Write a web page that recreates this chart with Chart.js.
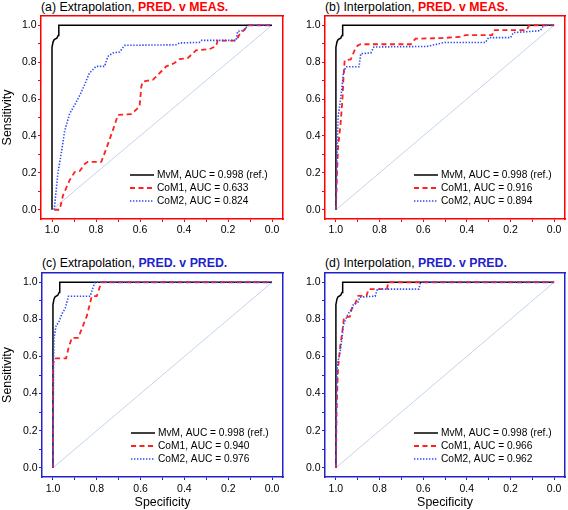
<!DOCTYPE html>
<html><head><meta charset="utf-8">
<script src="https://cdn.jsdelivr.net/npm/chart.js@4.4.1/dist/chart.umd.min.js"></script>
<style>
body{margin:0;width:568px;height:510px;position:relative;background:#fff;overflow:hidden;font-family:'Liberation Sans',Arial,sans-serif}
canvas{position:absolute}
.t{position:absolute;font-size:12.3px;line-height:15px;white-space:nowrap;color:#000}
.t b{font-weight:bold}
</style></head><body>
<div class="t" style="left:41px;top:0px">(a) Extrapolation, <b style="color:#ff0000">PRED. v MEAS.</b></div>
<div class="t" style="left:325px;top:0px">(b) Interpolation, <b style="color:#ff0000">PRED. v MEAS.</b></div>
<div class="t" style="left:42px;top:256px">(c) Extrapolation, <b style="color:#2222cc">PRED. v PRED.</b></div>
<div class="t" style="left:325px;top:256px">(d) Interpolation, <b style="color:#2222cc">PRED. v PRED.</b></div>
<canvas id="ca" width="288" height="250" style="left:0;top:0"></canvas>
<canvas id="cb" width="280" height="250" style="left:288px;top:0"></canvas>
<canvas id="cc" width="288" height="260" style="left:0;top:250px"></canvas>
<canvas id="cd" width="280" height="260" style="left:288px;top:250px"></canvas>
<script>
// ---- data ----
const tickValues = [0,0.1,0.2,0.3,0.4,0.5,0.6,0.7,0.8,0.9,1.0];
const tickLabels = ['0.0','0.2','0.4','0.6','0.8','1.0'];
const seriesNames = ['MvM','CoM1','CoM2'];

const aucA = [0.998,0.633,0.824];
const aucB = [0.998,0.916,0.894];
const aucC = [0.998,0.940,0.976];
const aucD = [0.998,0.966,0.962];

const diagSpec = [1,0];
const diagSens = [0,1];

const mvmSpec = [1.0,1.0,0.995,0.99,0.978,0.972,0.969,0.0];
const mvmSens = [0.0,0.88,0.91,0.922,0.93,0.945,1.0,1.0];

const aCoM1Spec = [0.99,0.965,0.95,0.92,0.897,0.874,0.85,0.837,0.776,0.753,0.723,0.70,0.64,0.602,0.594,0.587,0.542,0.519,0.481,0.443,0.42,0.383,0.345,0.284,0.254,0.247,0.163,0.148,0.118,0.11,0.0];
const aCoM1Sens = [0.0,0.0,0.078,0.16,0.205,0.21,0.25,0.26,0.26,0.332,0.432,0.514,0.518,0.559,0.668,0.695,0.704,0.731,0.777,0.795,0.817,0.822,0.864,0.871,0.886,0.917,0.917,0.949,0.986,1.0,1.0];
const aCoM2Spec = [0.99,0.98,0.973,0.958,0.942,0.92,0.897,0.874,0.852,0.83,0.80,0.761,0.746,0.723,0.693,0.67,0.436,0.42,0.33,0.32,0.163,0.156,0.126,0.11,0.0];
const aCoM2Sens = [0.0,0.12,0.2,0.305,0.43,0.52,0.568,0.62,0.677,0.74,0.777,0.777,0.831,0.85,0.855,0.891,0.894,0.904,0.907,0.918,0.918,0.967,0.973,1.0,1.0];

const bCoM1Spec = [1.0,0.995,0.99,0.98,0.975,0.97,0.965,0.96,0.932,0.916,0.90,0.886,0.657,0.635,0.52,0.43,0.406,0.284,0.277,0.126,0.117,0.11,0.0];
const bCoM1Sens = [0.0,0.2,0.34,0.45,0.52,0.6,0.72,0.81,0.815,0.86,0.89,0.897,0.897,0.927,0.93,0.937,0.946,0.946,0.973,0.973,0.995,1.0,1.0];
const bCoM2Spec = [1.0,0.995,0.99,0.982,0.973,0.966,0.954,0.894,0.886,0.84,0.826,0.584,0.505,0.315,0.30,0.20,0.186,0.064,0.05,0.04,0.0];
const bCoM2Sens = [0.0,0.27,0.5,0.57,0.65,0.74,0.775,0.775,0.846,0.85,0.882,0.885,0.906,0.906,0.933,0.933,0.96,0.97,0.995,1.0,1.0];

const cCoM1Spec = [1.0,1.0,0.995,0.94,0.93,0.914,0.885,0.868,0.845,0.83,0.823,0.80,0.785,0.78,0.0];
const cCoM1Sens = [0.0,0.55,0.59,0.59,0.64,0.70,0.70,0.75,0.82,0.89,0.925,0.925,0.98,1.0,1.0];
const cCoM2Spec = [1.0,0.997,0.995,0.985,0.975,0.959,0.944,0.929,0.83,0.815,0.808,0.0];
const cCoM2Sens = [0.0,0.6,0.7,0.77,0.78,0.83,0.86,0.925,0.925,0.98,1.0,1.0];

const dCoM1Spec = [1.0,0.997,0.993,0.99,0.98,0.972,0.966,0.963,0.936,0.928,0.913,0.898,0.86,0.85,0.766,0.76,0.0];
const dCoM1Sens = [0.0,0.3,0.45,0.54,0.66,0.72,0.78,0.81,0.815,0.855,0.88,0.927,0.927,0.963,0.963,1.0,1.0];
const dCoM2Spec = [1.0,0.997,0.993,0.985,0.98,0.972,0.966,0.955,0.944,0.928,0.92,0.90,0.89,0.82,0.81,0.62,0.612,0.0];
const dCoM2Sens = [0.0,0.4,0.56,0.6,0.63,0.70,0.77,0.80,0.83,0.855,0.88,0.89,0.92,0.925,0.963,0.963,1.0,1.0];

// ---- rendering ----
const FONT = "'Liberation Sans', Arial, sans-serif";
Chart.defaults.font.family = FONT;
const RED = '#ff0000', BLUE = '#2222cc';
const pts = (xs, ys) => xs.map((x, i) => ({x: x, y: ys[i]}));
const labelFor = v => { const l = tickLabels.find(s => Math.abs(parseFloat(s) - v) < 1e-6); return l === undefined ? '' : l; };

const styles = [
  {color:'#000000', width:1.5, dash:[]},
  {color:'#ff2020', width:1.8, dash:[5,3.5]},
  {color:'#2f4cf5', width:1.6, dash:[1.4,1.6]}
];

const legendPlugin = {
  id: 'rocLegend',
  afterDatasetsDraw(chart) {
    const {ctx, chartArea: a} = chart;
    const items = chart.data.datasets.filter(d => d.label);
    ctx.save();
    items.forEach((d, i) => {
      const y = a.bottom - 44 + i * 13;
      ctx.beginPath();
      ctx.setLineDash(d.borderDash || []);
      ctx.strokeStyle = d.borderColor; ctx.lineWidth = d.borderWidth;
      ctx.moveTo(a.left + 89, y); ctx.lineTo(a.left + 113, y); ctx.stroke();
      ctx.setLineDash([]);
      ctx.fillStyle = '#000'; ctx.font = '10.2px ' + FONT;
      ctx.textBaseline = 'middle'; ctx.textAlign = 'left';
      ctx.fillText(d.label, a.left + 116, y);
    });
    ctx.restore();
  }
};

function makeChart(id, auc, curves, frame, cfg) {
  const datasets = [{
    data: pts(diagSpec, diagSens), borderColor:'#c5d2ef', borderWidth:1, order:4
  }];
  const all = [[mvmSpec, mvmSens]].concat(curves);
  all.forEach((c, i) => {
    datasets.push({
      label: seriesNames[i] + ', AUC = ' + auc[i].toFixed(3) + (i === 0 ? ' (ref.)' : ''),
      data: pts(c[0], c[1]),
      borderColor: styles[i].color, borderWidth: styles[i].width, borderDash: styles[i].dash,
      order: 3 - i
    });
  });
  datasets.forEach(d => { d.showLine = true; d.pointRadius = 0; d.fill = false; d.tension = 0; });
  const axisCommon = (pos) => ({
    type:'linear', min:-0.05, max:1.05, position: pos,
    afterBuildTicks: s => { s.ticks = tickValues.map(v => ({value:v})); },
    grid: {display:true, drawOnChartArea:false, drawTicks:true, tickLength:3, tickColor:frame, tickWidth:1},
    border: {display:true, color:frame, width:1.5},
  });
  const x = Object.assign(axisCommon('bottom'), {
    reverse:true,
    afterFit: s => { s.height = cfg.xh; },
    ticks: {autoSkip:false, maxRotation:0, minRotation:0, padding:cfg.xpad, color:'#000', font:{size:10.5}, callback: v => labelFor(v)},
    title: {display: !!cfg.xTitle, text:'Specificity', color:'#000', font:{size:12.4}, padding:{top:0, bottom:0}}
  });
  const y = Object.assign(axisCommon('left'), {
    afterFit: s => { s.width = cfg.yw; },
    ticks: {autoSkip:false, padding:1.5, color:'#000', font:{size:10.5}, callback: v => labelFor(v)},
    title: {display: !!cfg.yTitle, text:'Sensitivity', color:'#000', font:{size:12.4}, padding:{top:0, bottom:0}}
  });
  const x2 = {type:'linear', min:-0.05, max:1.05, position:'top', display:true,
    afterFit: s => { s.height = 0; }, ticks:{display:false},
    grid:{drawOnChartArea:false, drawTicks:false}, border:{display:true, color:frame, width:1.5}};
  const y2 = {type:'linear', min:-0.05, max:1.05, position:'right', display:true,
    afterFit: s => { s.width = 0; }, ticks:{display:false},
    grid:{drawOnChartArea:false, drawTicks:false}, border:{display:true, color:frame, width:1.5}};
  return new Chart(document.getElementById(id), {
    type:'scatter',
    data:{datasets},
    options:{
      responsive:false, animation:false, devicePixelRatio:1,
      layout:{padding: cfg.pad},
      scales:{x, y, x2, y2},
      plugins:{legend:{display:false}, tooltip:{enabled:false}}
    },
    plugins:[legendPlugin]
  });
}

makeChart('ca', aucA, [[aCoM1Spec,aCoM1Sens],[aCoM2Spec,aCoM2Sens]], RED,
  {xh:20, yw:41, xpad:2, yTitle:true, pad:{left:0, top:16, right:5, bottom:11}});
makeChart('cb', aucB, [[bCoM1Spec,bCoM1Sens],[bCoM2Spec,bCoM2Sens]], RED,
  {xh:20, yw:37, xpad:2, pad:{left:0, top:16, right:3, bottom:11}});
makeChart('cc', aucC, [[cCoM1Spec,cCoM1Sens],[cCoM2Spec,cCoM2Sens]], BLUE,
  {xh:33, yw:42, xpad:3, yTitle:true, xTitle:true, pad:{left:0, top:23, right:5, bottom:0}});
makeChart('cd', aucD, [[dCoM1Spec,dCoM1Sens],[dCoM2Spec,dCoM2Sens]], BLUE,
  {xh:33, yw:37, xpad:3, xTitle:true, pad:{left:0, top:23, right:3, bottom:0}});
</script>
</body></html>
